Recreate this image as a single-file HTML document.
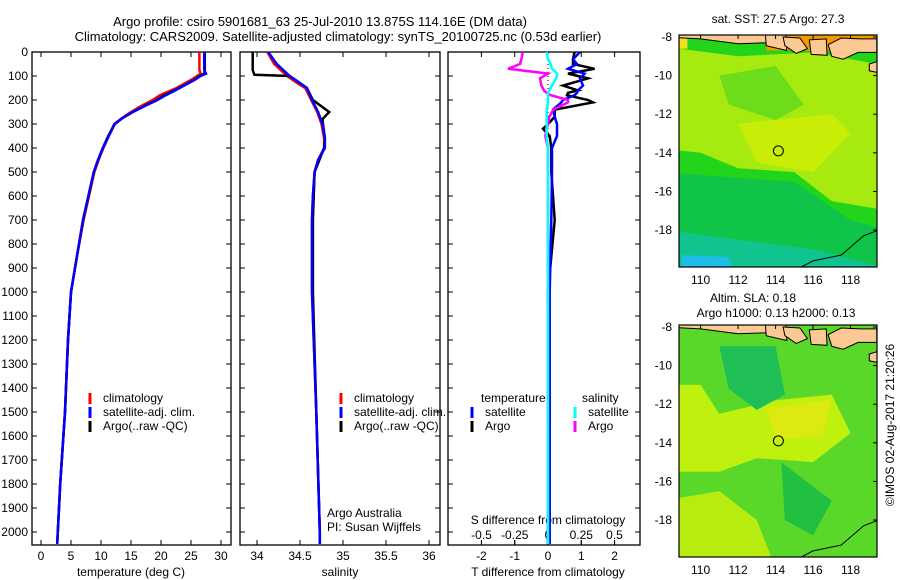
<!DOCTYPE html>
<html><head><meta charset="utf-8"><style>
body{margin:0;background:#fff;}
svg{display:block;font-family:"Liberation Sans",sans-serif;font-size:12px;}
</style></head><body>
<svg id="c" width="900" height="580" viewBox="0 0 900 580"></svg>
<script>
// ---- data ----
const depthT=[0,75,90,100,115,130,150,165,180,200,225,250,275,300,350,400,450,500,600,700,850,1000,1200,1500,1800,2000,2050];
const tempArgo=[27.3,27.3,27.2,26.5,25.6,24.5,23,21.8,20.5,19.3,17.2,15.3,13.6,12.3,11.2,10.3,9.5,8.8,7.9,7.0,6.0,5.0,4.5,4.0,3.2,2.8,2.7];
const tempSat=[27.2,27.2,27.5,26.6,25.7,24.6,23.1,22.0,20.8,19.4,17.3,15.3,13.6,12.3,11.3,10.3,9.5,8.8,7.9,7.0,6.0,5.0,4.5,4.0,3.2,2.8,2.7];
const tempClim=[26.4,26.4,26.6,26.0,25.1,24.0,22.6,21.2,19.8,18.6,16.7,15.0,13.5,12.2,11.3,10.4,9.6,8.9,8.0,7.1,6.0,5.0,4.5,4.0,3.2,2.8,2.7];
const depthS=[0,50,100,130,150,200,250,300,360,400,450,500,600,700,1000,1500,2000,2050];
const salSat=[34.13,34.23,34.38,34.5,34.58,34.64,34.71,34.76,34.79,34.79,34.71,34.67,34.65,34.64,34.64,34.69,34.73,34.73];
const salClim=[34.12,34.2,34.35,34.47,34.56,34.63,34.7,34.75,34.78,34.78,34.71,34.67,34.65,34.64,34.64,34.69,34.73,34.73];
const depthSA=[0,75,95,100,150,200,250,280,360,400,500,700,1000,1500,2000,2050];
const salArgo=[33.95,33.95,33.97,34.38,34.58,34.65,34.84,34.76,34.79,34.78,34.67,34.65,34.65,34.69,34.73,34.73];
const depthD=[0,30,50,70,90,110,140,160,170,180,200,210,240,270,300,320,350,400,500,700,1000,1500,2000,2050];
const dTsat=[0.96,0.75,0.87,0.6,1.1,0.96,1.05,0.9,0.87,0.8,0.45,0.4,0.15,0.2,0.27,0.27,0.27,0.12,0.12,0.1,0.05,0.05,0.05,0.05];
const dTargo=[0.8,0.75,0.75,1.4,0.6,1.2,0.45,0.9,0.6,0.57,1.2,1.35,0.2,0.2,0,-0.15,0.05,0.1,0.1,0.2,0,0.05,0,0];
const dSargo=[-0.19,-0.2,-0.21,-0.3,0.0,-0.06,-0.05,-0.03,-0.01,0.02,0.15,0.15,0.04,0.01,0,-0.01,-0.02,0,0,0,0,0,0,0];
const dSsat=[-0.01,0.0,0.02,0.03,0.07,0.06,0.03,0.01,0.0,0.0,0.0,0.0,-0.01,-0.01,-0.01,-0.01,-0.01,0,0,0,0,0,0,0];
const depthTicks=[0,100,200,300,400,500,600,700,800,900,1000,1100,1200,1300,1400,1500,1600,1700,1800,1900,2000];
const tTicks=[0,5,10,15,20,25,30];
const sTicks=["34","34.5","35","35.5","36"];
const dTticks=[-2,-1,0,1,2];
const dSticks=["-0.5","-0.25","0","0.25","0.5"];
const lonTicks=[110,112,114,116,118];
const latTicks=[-8,-10,-12,-14,-16,-18];
const argoLon=114.15, argoLat=-13.9;

// ---- helpers ----
const NS="http://www.w3.org/2000/svg", svg=document.getElementById('c');
function el(t,a,txt){const e=document.createElementNS(NS,t);for(const k in a)e.setAttribute(k,a[k]);if(txt!==undefined)e.textContent=txt;svg.appendChild(e);return e;}
const yD=d=>52+d*0.24;
const xT=t=>41+t*6.0;
const xS=s=>257+(s-34)*86;
const xDT=v=>548+v*33.3;
const xDS=v=>548+v*133;
const xLon=l=>679+(l-108.85)*18.75;
const yLat=(l,top)=>top+(-8-l)*19.3;
function line(xs,ds,fx,col,name){const p=el('polyline',{points:xs.map((v,i)=>fx(v).toFixed(1)+','+yD(ds[i]).toFixed(1)).join(' '),fill:'none',stroke:col,'stroke-width':2.5});

}
function txt(x,y,s,anchor,name,extra){const t=el('text',Object.assign({x:x,y:y,'text-anchor':anchor||'start'},extra||{}),s);

return t;}

// titles
txt(320,26,"Argo profile: csiro 5901681_63 25-Jul-2010 13.875S 114.16E (DM data)","middle","title-line-1",{'font-size':13});
txt(338,41,"Climatology: CARS2009. Satellite-adjusted climatology: synTS_20100725.nc (0.53d earlier)","middle","title-line-2",{'font-size':13});

// panel boxes
const panels=[[32,231,'temperature-panel'],[240,440,'salinity-panel'],[448,640,'difference-panel']];
panels.forEach(p=>{const r=el('rect',{x:p[0],y:52,width:p[1]-p[0],height:493,fill:'none',stroke:'#000','stroke-width':1.3});


depthTicks.forEach(d=>{el('line',{x1:p[0],x2:p[0]+5,y1:yD(d),y2:yD(d),stroke:'#000'});el('line',{x1:p[1],x2:p[1]-5,y1:yD(d),y2:yD(d),stroke:'#000'});});});
depthTicks.forEach(d=>txt(28,yD(d)+4,String(d),'end','depth-tick-label'));
tTicks.forEach(t=>{el('line',{x1:xT(t),x2:xT(t),y1:545,y2:540,stroke:'#000'});el('line',{x1:xT(t),x2:xT(t),y1:52,y2:57,stroke:'#000'});txt(xT(t),560,String(t),'middle','temperature-tick-label');});
txt(131,576,"temperature (deg C)","middle","temperature-axis-title");
sTicks.forEach(s=>{const x=xS(+s);el('line',{x1:x,x2:x,y1:545,y2:540,stroke:'#000'});el('line',{x1:x,x2:x,y1:52,y2:57,stroke:'#000'});txt(x,560,s,'middle','salinity-tick-label');});
txt(340,576,"salinity","middle","salinity-axis-title");
dTticks.forEach(v=>{el('line',{x1:xDT(v),x2:xDT(v),y1:545,y2:540,stroke:'#000'});el('line',{x1:xDT(v),x2:xDT(v),y1:52,y2:57,stroke:'#000'});txt(xDT(v),560,String(v),'middle','t-diff-tick-label');});
dSticks.forEach(v=>{el('line',{x1:xDS(+v),x2:xDS(+v),y1:545,y2:540,stroke:'#000'});txt(xDS(+v),539,v,'middle','s-diff-tick-label');});
txt(548,524,"S difference from climatology","middle","s-diff-axis-title");
txt(548,576,"T difference from climatology","middle","t-diff-axis-title");
el('line',{x1:548,x2:548,y1:52,y2:200,stroke:'#000','stroke-dasharray':'1,3'});

// series
line(tempClim,depthT,xT,'#f00','temp-climatology-line');
line(tempArgo,depthT,xT,'#000','temp-argo-line');
line(tempSat,depthT,xT,'#00f','temp-satellite-line');
line(salClim,depthS,xS,'#f00','sal-climatology-line');
line(salArgo,depthSA,xS,'#000','sal-argo-line');
line(salSat,depthS,xS,'#00f','sal-satellite-line');
line(dTargo,depthD,xDT,'#000','tdiff-argo-line');
line(dTsat,depthD,xDT,'#00f','tdiff-satellite-line');
line(dSargo,depthD,xDS,'#f0f','sdiff-argo-line');
line(dSsat,depthD,xDS,'#0ff','sdiff-satellite-line');

// legends
function leg(x,y,col,s,name){el('line',{x1:x,x2:x,y1:y-9,y2:y+2,stroke:col,'stroke-width':3});txt(x+13,y,s,'start',name);}
[[90,'#f00','climatology'],[90,'#00f','satellite-adj. clim.'],[90,'#000','Argo(..raw -QC)']].forEach((l,i)=>leg(l[0],402+i*14,l[1],l[2],'temp-legend-entry'));
[[341,'#f00','climatology'],[341,'#00f','satellite-adj. clim.'],[341,'#000','Argo(..raw -QC)']].forEach((l,i)=>leg(l[0],402+i*14,l[1],l[2],'sal-legend-entry'));
txt(481,402,"temperature","start","diff-legend-temperature-header");
txt(582,402,"salinity","start","diff-legend-salinity-header");
leg(472,416,'#00f','satellite','diff-legend-t-satellite');leg(472,430,'#000','Argo','diff-legend-t-argo');
leg(575,416,'#0ff','satellite','diff-legend-s-satellite');leg(575,430,'#f0f','Argo','diff-legend-s-argo');
txt(327,517,"Argo Australia","start","credit-argo-australia");
txt(327,531,"PI: Susan Wijffels","start","credit-pi");

// maps
function map(top,name,kind){
 const g=el('g',{});
 const cl=el('clipPath',{id:'cl'+top});const cr=document.createElementNS(NS,'rect');cr.setAttribute('x',679);cr.setAttribute('y',top-2);cr.setAttribute('width',198);cr.setAttribute('height',232);cl.appendChild(cr);
 const gg=el('g',{'clip-path':'url(#cl'+top+')'});
 function poly(pts,fill){const p=document.createElementNS(NS,'polygon');p.setAttribute('points',pts.map(q=>xLon(q[0]).toFixed(1)+','+yLat(q[1],top).toFixed(1)).join(' '));p.setAttribute('fill',fill);gg.appendChild(p);return p;}
 if(kind==='sst'){
  poly([[108,-7],[120,-7],[120,-21],[108,-21]],'#22d41a');
  poly([[108,-8.5],[112,-9],[116,-8.8],[120,-9.5],[120,-17],[117,-16.5],[115,-15],[112,-14.8],[110,-14],[108,-13.8]],'#a6ea10');
  poly([[112,-12.5],[117,-12],[118,-13],[116,-15],[113,-14.5]],'#c8ee08');
  poly([[111,-10],[114,-9.5],[115.5,-11.5],[114,-12.3],[111.5,-11.5]],'#6ddc1a');
  poly([[108,-15],[112,-15.3],[115,-15.5],[118,-17.5],[120,-18],[120,-21],[108,-21]],'#10c44a');
  poly([[108,-18],[112,-18.5],[116,-19],[120,-20],[120,-21],[108,-21]],'#10c490');
  poly([[109,-19.3],[111.5,-19.4],[112,-21],[109,-21]],'#20bce8');
  poly([[113.5,-7],[120,-7],[120,-8.7],[113.5,-8.7]],'#f49a00');
  poly([[108,-7],[109.3,-7],[109.3,-8.6],[108,-8.6]],'#f2e020');
 } else {
  poly([[108,-7],[120,-7],[120,-21],[108,-21]],'#5ad82a');
  poly([[108,-11],[110,-11],[111,-12.5],[114,-11.8],[117,-11.5],[118,-13.5],[116,-15],[113,-14.8],[111,-15.5],[108,-15.5]],'#bff00e');
  poly([[113.5,-12.2],[117,-11.8],[116.5,-13.6],[114,-13.8]],'#dcea10');
  poly([[111,-9],[114,-9],[114.5,-11.5],[113,-12.3],[111.5,-11.2]],'#1fbf55');
  poly([[114.3,-15],[117,-17],[116,-18.8],[114.5,-18]],'#22c040');
  poly([[108,-17],[111,-16.5],[113,-18],[114,-20.5],[108,-20.5]],'#b8ec10');
 }
 const land=[[[108,-7],[113.5,-7],[113.5,-8.3],[112,-8.35],[110,-8.1],[108,-8]],[[113.4,-7],[114.5,-7],[114.6,-8.7],[113.5,-8.45]],[[114.4,-8.0],[115.3,-8.05],[115.7,-8.6],[115.1,-8.85],[114.5,-8.45]],[[115.8,-8.15],[116.7,-8.1],[116.75,-8.95],[115.9,-8.9]],[[116.8,-8.4],[117.5,-8.05],[118.5,-8.1],[119.4,-8.1],[119.4,-8.8],[118.4,-8.8],[117.6,-9.15],[117,-9.0]],[[119.0,-9.4],[119.5,-9.25],[119.5,-9.85],[119.0,-9.75]]];
 land.forEach(l=>{const p=poly(l,'#fcc994');p.setAttribute('stroke','#000');p.setAttribute('stroke-width',1);});
 const coast=document.createElementNS(NS,'polyline');coast.setAttribute('points',[[115.2,-20],[116,-19.6],[117.5,-19.3],[118.7,-18.3],[119.5,-18]].map(q=>xLon(q[0])+','+yLat(q[1],top)).join(' '));coast.setAttribute('fill','none');coast.setAttribute('stroke','#000');gg.appendChild(coast);
 el('rect',{x:679,y:top-2,width:198,height:232,fill:'none',stroke:'#000','stroke-width':1.2});
 lonTicks.forEach(l=>{el('line',{x1:xLon(l),x2:xLon(l),y1:top-2,y2:top+2,stroke:'#000'});txt(xLon(l),top+247,String(l),'middle','lon-tick-label');});
 latTicks.forEach(l=>{el('line',{x1:877,x2:873,y1:yLat(l,top),y2:yLat(l,top),stroke:'#000'});txt(672,yLat(l,top)+4,String(l),'end','lat-tick-label');});
 const c=el('circle',{cx:xLon(argoLon),cy:yLat(argoLat,top),r:5,fill:'none',stroke:'#000','stroke-width':1});
 
 
}
map(37,'sst-map','sst');
map(327,'sla-map','sla');
txt(778,23,"sat. SST: 27.5 Argo: 27.3","middle","sst-map-title");
txt(753,302,"Altim. SLA: 0.18","middle","sla-map-title");
txt(776,317,"Argo h1000: 0.13 h2000: 0.13","middle","sla-map-subtitle");
txt(0,0,"©IMOS 02-Aug-2017 21:20:26","middle","timestamp-credit",{transform:'translate(894,425) rotate(-90)'});
</script>
</body></html>
